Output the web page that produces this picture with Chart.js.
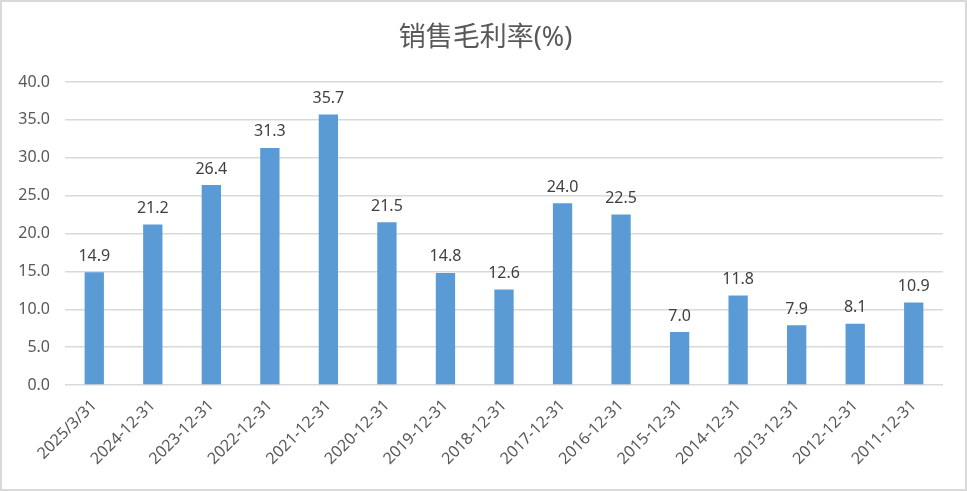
<!DOCTYPE html>
<html>
<head>
<meta charset="utf-8">
<script src="https://cdn.jsdelivr.net/npm/chart.js@4.4.1/dist/chart.umd.min.js"></script>
<style>
  html, body { margin: 0; padding: 0; background: #fff; }
  #wrap { width: 967px; height: 491px; box-sizing: border-box; border: 2px solid #d9d9d9; position: relative; }
  #wrap canvas { display: block; }
</style>
</head>
<body>
<div id="wrap"><canvas id="marginChart" width="963" height="487"></canvas></div>
<script>
// categories and values
const periods = ['2025/3/31', '2024-12-31', '2023-12-31', '2022-12-31', '2021-12-31', '2020-12-31',
  '2019-12-31', '2018-12-31', '2017-12-31', '2016-12-31', '2015-12-31', '2014-12-31',
  '2013-12-31', '2012-12-31', '2011-12-31'];
const grossMargin = [14.9, 21.2, 26.4, 31.3, 35.7, 21.5, 14.8, 12.6, 24.0, 22.5, 7.0, 11.8, 7.9, 8.1, 10.9];
const yTicks = [0, 5, 10, 15, 20, 25, 30, 35, 40];
const chartTitle = '销售毛利率(%)';

const FONT = '"Noto Sans", "Noto Sans CJK SC", sans-serif';

// value labels above every bar
const barLabels = {
    id: 'barLabels',
    afterDatasetsDraw(chart) {
        const ctx = chart.ctx;
        const meta = chart.getDatasetMeta(0);
        ctx.save();
        ctx.fillStyle = '#404040';
        ctx.font = '16px ' + FONT;
        ctx.textAlign = 'center';
        ctx.textBaseline = 'bottom';
        meta.data.forEach((bar, i) => {
            ctx.fillText(grossMargin[i].toFixed(1), bar.x, bar.y - 8);
        });
        ctx.restore();
    }
};

// title centred on the whole canvas (Excel style)
const centeredTitle = {
    id: 'centeredTitle',
    afterDraw(chart) {
        const ctx = chart.ctx;
        ctx.save();
        ctx.fillStyle = '#595959';
        ctx.font = '27px ' + FONT;
        ctx.textAlign = 'center';
        ctx.textBaseline = 'middle';
        ctx.fillText(chartTitle, chart.width / 2 + 2, 36);
        ctx.restore();
    }
};

new Chart(document.getElementById('marginChart'), {
    type: 'bar',
    data: {
        labels: periods,
        datasets: [{
            label: chartTitle,
            data: grossMargin,
            backgroundColor: '#5b9bd5',
            barPercentage: 0.66,
            categoryPercentage: 0.5
        }]
    },
    options: {
        responsive: false,
        animation: false,
        layout: { padding: { left: 0, right: 22, top: 80, bottom: 0 } },
        plugins: {
            legend: { display: false },
            tooltip: { enabled: false },
            title: { display: false }
        },
        scales: {
            x: {
                grid: { display: false },
                border: { display: false },
                ticks: {
                    color: '#595959',
                    font: { family: FONT, size: 16 },
                    maxRotation: 45,
                    minRotation: 45,
                    autoSkip: false,
                    padding: 3
                },
                afterFit: (scale) => { scale.height = 104; }
            },
            y: {
                min: 0,
                max: 40,
                afterBuildTicks: (scale) => { scale.ticks = yTicks.map(v => ({ value: v })); },
                grid: { color: '#d9d9d9', lineWidth: 1.5, drawTicks: false },
                border: { display: false },
                ticks: {
                    color: '#595959',
                    font: { family: FONT, size: 16 },
                    padding: 15,
                    callback: (v) => Number(v).toFixed(1)
                },
                afterFit: (scale) => { scale.width = 63; }
            }
        }
    },
    plugins: [barLabels, centeredTitle]
});
</script>
</body>
</html>
